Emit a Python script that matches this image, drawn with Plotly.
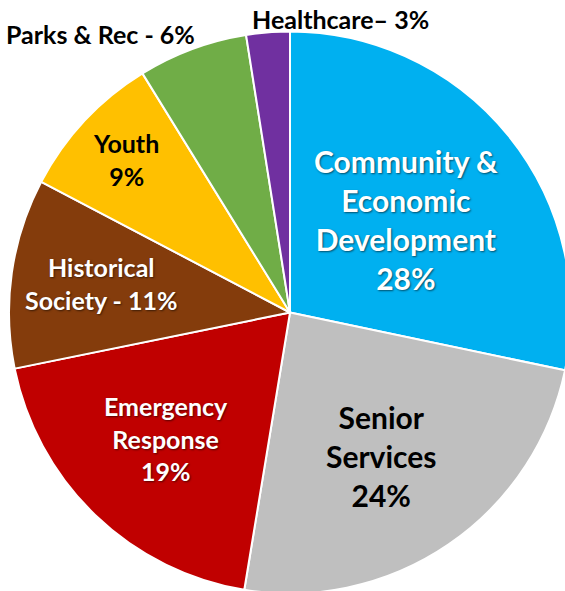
import plotly.graph_objects as go

categories = ["Community & Economic Development", "Senior Services", "Emergency Response",
              "Historical Society", "Youth", "Parks & Rec", "Healthcare"]
values = [28.3, 24.3, 19.2, 10.9, 8.5, 6.3, 2.5]
label_text = ["Community &<br>Economic<br>Development<br>28%", "Senior<br>Services<br>24%",
              "Emergency<br>Response<br>19%", "Historical<br>Society - 11%", "Youth<br>9%",
              "Parks & Rec - 6%", "Healthcare– 3%"]
colors = ["#00B0F0", "#BFBFBF", "#C00000", "#843C0C", "#FFC000", "#70AD47", "#7030A0"]

W, H = 572, 594
# label styling / placement (pixels in the figure)
text_colors = ["white", "black", "white", "white", "black", "black", "black"]
text_sizes = [30, 30, 25, 25, 25, 25, 25]
label_px = [(405.5, 219.5), (381, 455.5), (165.5, 438), (101.5, 283.5), (126, 159.5), (100, 34.5), (340.5, 18.5)]

fig = go.Figure(go.Pie(
    labels=categories, values=values,
    textinfo="none",
    sort=False, direction="clockwise", rotation=0,
    marker=dict(colors=colors, line=dict(color="white", width=2)),
    domain=dict(x=[9 / W, 571 / W], y=[0, 1 - 31 / H]),
    showlegend=False, hoverinfo="label+percent",
))

for txt, col, sz, (px, py) in zip(label_text, text_colors, text_sizes, label_px):
    fig.add_annotation(
        x=px / W, y=1 - py / H, xref="paper", yref="paper",
        text=txt, showarrow=False, xanchor="center", yanchor="middle", align="center",
        font=dict(family="Lato", size=sz, color=col, weight="bold",
                  shadow="1px 1px 2px rgba(0,0,0,0.55)" if col == "white" else "none"),
    )

fig.update_layout(width=W, height=H, margin=dict(l=0, r=0, t=0, b=0),
                  paper_bgcolor="white", plot_bgcolor="white")
fig.write_html("out.html", config={"displayModeBar": False},
               post_script="document.body.style.margin='0';document.body.style.overflow='hidden';")
